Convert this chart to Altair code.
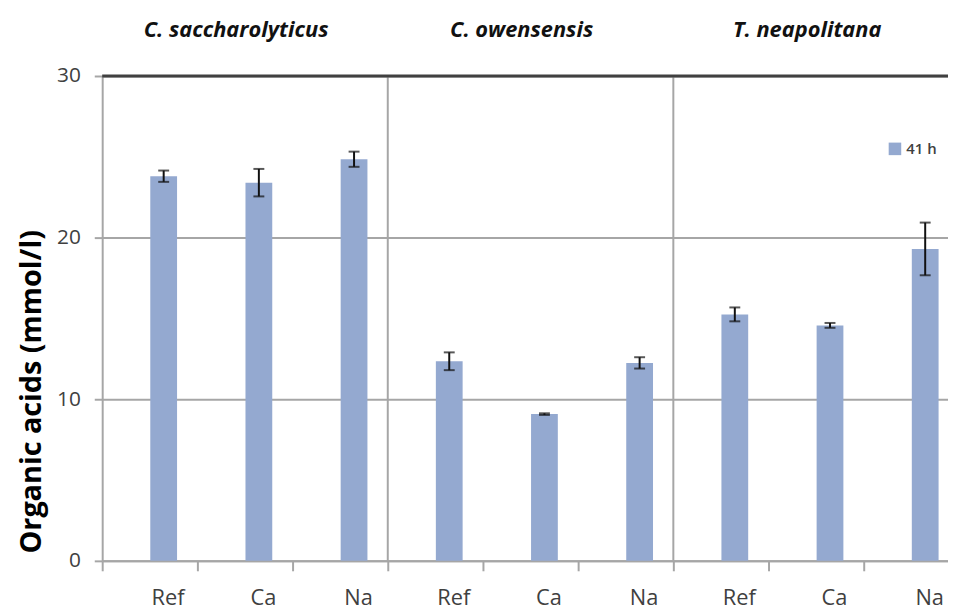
import altair as alt
import pandas as pd

species = ["C. saccharolyticus", "C. owensensis", "T. neapolitana"]
treatments = ["Ref", "Ca", "Na"]
values = [23.8, 23.4, 24.85, 12.35, 9.08, 12.25, 15.25, 14.57, 19.3]
errors = [0.35, 0.85, 0.47, 0.55, 0.05, 0.35, 0.43, 0.15, 1.63]
series_name = "41 h"
y_ticks = [0, 10, 20, 30]

BAR = "#94A9D0"
GRID = "#A6A6A6"
FONT = "Open Sans"

rows = []
for i, sp in enumerate(species):
    for j, t in enumerate(treatments):
        k = i * 3 + j
        rows.append({
            "key": f"{sp}|{t}", "species": sp, "treatment": t,
            "value": values[k], "lo": values[k] - errors[k],
            "hi": values[k] + errors[k], "series": series_name,
        })
df = pd.DataFrame(rows)
keys = list(df["key"])

sep_df = pd.DataFrame({"key": [keys[3], keys[6]]})
title_df = pd.DataFrame({"key": [keys[1], keys[4], keys[7]], "species": species})

xenc = alt.X(
    "key:N", sort=keys,
    scale=alt.Scale(domain=keys, range=[0, 864], paddingInner=0, paddingOuter=0),
    axis=alt.Axis(
        title=None, labelExpr="split(datum.label, '|')[1]", tickBand="extent",
        labelOffset=18, labelAngle=0, labelFont=FONT, labelFontSize=22,
        labelColor="#404040", labelPadding=17, tickSize=10, tickWidth=2,
        tickColor=GRID, domainColor=GRID, domainWidth=2, grid=False,
    ),
)
yenc = alt.Y(
    "value:Q",
    scale=alt.Scale(domain=[0, 30], nice=False),
    axis=alt.Axis(
        values=y_ticks, grid=True, gridColor=GRID, gridWidth=2,
        domainColor=GRID, domainWidth=2, tickColor=GRID, tickSize=8,
        tickWidth=2, labelFont=FONT, labelFontSize=21, labelColor="#404040",
        labelPadding=14, title="Organic acids (mmol/l)", titleFont=FONT,
        titleFontSize=29, titleFontWeight="bold", titleColor="#000000",
        titleX=-56, titleY=318,
    ),
)

bars = alt.Chart(df).mark_bar(size=27, xOffset=14).encode(
    x=xenc, y=yenc,
    color=alt.Color(
        "series:N", scale=alt.Scale(range=[BAR]),
        legend=alt.Legend(
            title=None, orient="none", legendX=792, legendY=66,
            symbolType="square", symbolSize=160, symbolStrokeWidth=0,
            labelFont=FONT, labelFontSize=15, labelFontWeight=600,
            labelColor="#404040", padding=0,
        ),
    ),
)

err_rule = alt.Chart(df).mark_rule(xOffset=14, color="#111111", strokeWidth=2).encode(
    x=alt.X("key:N", sort=keys), y="lo:Q", y2="hi:Q"
)
err_caps = alt.Chart(df).transform_fold(["lo", "hi"], as_=["end", "v"]).mark_tick(
    xOffset=14, size=11, thickness=2, color="#111111", orient="horizontal"
).encode(x=alt.X("key:N", sort=keys), y="v:Q")

seps = alt.Chart(sep_df).mark_rule(color=GRID, strokeWidth=2).encode(
    x=alt.X("key:N", sort=keys, bandPosition=0), y=alt.datum(0), y2=alt.datum(30)
)
top_line = alt.Chart(pd.DataFrame({"v": [30]})).mark_rule(color="#404040", strokeWidth=3).encode(
    y="v:Q"
)
titles = alt.Chart(title_df).mark_text(
    font=FONT, fontSize=22, fontWeight="bold", fontStyle="italic",
    color="#111111", dx=-9, baseline="alphabetic",
).encode(x=alt.X("key:N", sort=keys), y=alt.value(-39), text="species:N")

chart = alt.layer(bars, seps, top_line, err_rule, err_caps, titles).properties(
    width=853, height=489,
    autosize=alt.AutoSizeParams(type="none"),
    padding={"left": 95, "top": 66, "right": 0, "bottom": 50},
).configure_view(stroke=None)

chart.save("out.html", embed_options={"renderer": "svg", "actions": False})
